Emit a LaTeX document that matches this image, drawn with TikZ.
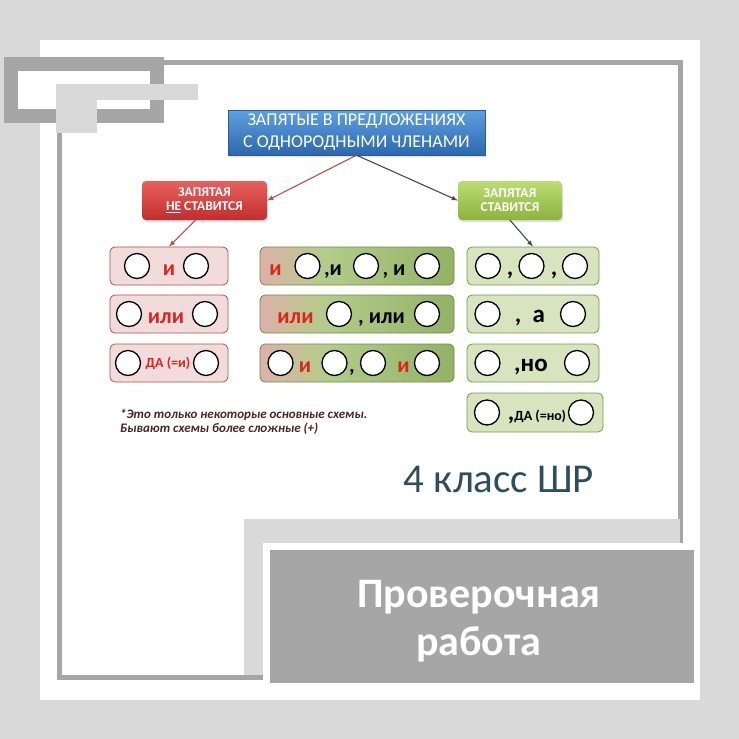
\documentclass[tikz,border=0pt]{standalone}
\usepackage{fontspec}
\setmainfont{Carlito}
\usetikzlibrary{arrows,shadows}

\definecolor{bggray}{HTML}{D9D9D9}
\definecolor{dkgray}{HTML}{A6A6A6}
\definecolor{bluetop}{HTML}{5FA0E0}
\definecolor{bluebot}{HTML}{2C68B0}
\definecolor{blueline}{HTML}{2A5C98}
\definecolor{redtop}{HTML}{E8605C}
\definecolor{redbot}{HTML}{C02E2C}
\definecolor{greentop}{HTML}{BCDC74}
\definecolor{greenbot}{HTML}{8BB43C}
\definecolor{pinkfill}{HTML}{F2DCDB}
\definecolor{pinkline}{HTML}{B6504C}
\definecolor{lgfill}{HTML}{D7E4BD}
\definecolor{lgline}{HTML}{7A9650}
\definecolor{midpink}{HTML}{DDB1A8}
\definecolor{midgreen}{HTML}{B3CC8A}
\definecolor{midgreenb}{HTML}{92B265}
\definecolor{midline}{HTML}{6E8C48}
\definecolor{wordred}{HTML}{D8261F}
\definecolor{notebrown}{HTML}{4A2626}
\definecolor{classteal}{HTML}{2F4E5C}
\definecolor{arrred}{HTML}{B5504C}
\definecolor{arrgreen}{HTML}{45503A}

\pgfdeclarehorizontalshading{midgrad}{100bp}{color(0bp)=(midpink); color(25bp)=(midpink); color(42bp)=(midgreen); color(75bp)=(midgreenb); color(100bp)=(midgreenb)}

\begin{document}
\begin{tikzpicture}[x=1pt,y=-1pt,
  ring/.style={circle,draw=black,fill=white,line width=1.3pt,minimum size=25pt,inner sep=0pt},
  redword/.style={text=wordred,font=\fontsize{22}{22}\selectfont\bfseries,anchor=base,inner sep=0pt},
  blkword/.style={text=black,font=\fontsize{22}{22}\selectfont\bfseries,anchor=base,inner sep=0pt},
  bigword/.style={text=black,font=\fontsize{25}{25}\selectfont\bfseries,anchor=base,inner sep=0pt},
  lbox/.style={draw=pinkline,fill=pinkfill,rounded corners=5pt,line width=0.8pt,minimum width=118pt,minimum height=38pt},
  mbox/.style={draw=midline,shading=midgrad,rounded corners=5pt,line width=0.8pt,minimum width=194pt,minimum height=38pt},
  rbox/.style={draw=lgline,fill=lgfill,rounded corners=5pt,line width=0.8pt,minimum width=132pt,minimum height=38pt},
  headbox/.style={text=white,align=center,font=\fontsize{13.5}{14}\selectfont\bfseries,rounded corners=4pt,
    minimum height=39pt,drop shadow={opacity=.25,shadow xshift=1pt,shadow yshift=-2pt}}]

\path[use as bounding box] (0,0) rectangle (739,739);

% page and frames
\fill[bggray] (0,0) rectangle (739,739);
\fill[white] (40,40) rectangle (700,700);
\draw[dkgray,line width=5pt] (59.5,62.5) rectangle (680.5,677.5);
\draw[dkgray,line width=14pt,fill=white] (11,64) rectangle (157,116);
\fill[bggray] (56,84) rectangle (198,100);
\fill[bggray] (56,84) rectangle (97,133);
\fill[bggray] (244,519) rectangle (680,543);
\fill[bggray] (244,519) rectangle (263,675);
\fill[white] (263,543) rectangle (700,700);

% heads
\node[draw=blueline,top color=bluetop,bottom color=bluebot,text=white,align=center,
  font=\fontsize{18}{22}\selectfont,minimum width=257pt,minimum height=45pt,
  drop shadow={opacity=.25,shadow xshift=1pt,shadow yshift=-2pt}] (title) at (356.5,132.5)
  {ЗАПЯТЫЕ В ПРЕДЛОЖЕНИЯХ\\С ОДНОРОДНЫМИ ЧЛЕНАМИ};
\node[headbox,top color=redtop,bottom color=redbot,minimum width=125pt] (nocomma) at (204.5,200.5)
  {ЗАПЯТАЯ\\\underline{НЕ} СТАВИТСЯ};
\node[headbox,top color=greentop,bottom color=greenbot,minimum width=104pt] (comma) at (510,200.5)
  {ЗАПЯТАЯ\\СТАВИТСЯ};

% rows
\node[lbox] (lbox1) at (169,266) {};
\node[lbox] (lbox2) at (169,314) {};
\node[lbox] (lbox3) at (169,363) {};
\node[mbox] (mbox1) at (357,266) {};
\node[mbox] (mbox2) at (357,314) {};
\node[mbox] (mbox3) at (357,363) {};
\node[rbox] (rbox1) at (533,266) {};
\node[rbox] (rbox2) at (533,314) {};
\node[rbox] (rbox3) at (533,363) {};
\node[rbox,minimum width=136pt,minimum height=39pt] (rbox4) at (535,412.5) {};

\path[->,>=latex,arrred,line width=1.1pt] (title.south) edge (nocomma.east);
\path[->,>=latex,arrgreen,line width=1.1pt] (title.south) edge (comma.west);
\path[->,>=latex,arrred,line width=1.1pt] ([xshift=-9pt]nocomma.south) edge (lbox1.north);
\path[->,>=latex,arrgreen,line width=1.1pt] (comma.south) edge (rbox1.north);

% circles
\foreach \n/\x/\y in {1/137/266,2/196/266,3/129/314,4/205/314,5/128/363,6/206/363}
  \node[ring] (lc\n) at (\x,\y) {};
\foreach \n/\x/\y in {1/307.5/266,2/366/266,3/427/266,4/339/314,5/427/314,
  6/280.5/363,7/334.5/363,8/373/363,9/427/363}
  \node[ring] (mc\n) at (\x,\y) {};
\foreach \n/\x/\y in {1/488/266,2/531.5/266,3/575/266,4/487.5/314,5/573/314,
  6/487.5/363,7/577/363,8/487/412.5,9/581/412.5}
  \node[ring] (rc\n) at (\x,\y) {};

% words
\node[redword] (lw1) at (169,275) {и};
\node[redword] (lw2) at (166,323) {или};
\node[redword,font=\fontsize{14}{14}\selectfont\bfseries] (lw3) at (168,367) {ДА (=и)};

\node[redword] (mw1) at (275.5,275) {и};
\node[blkword] (mw2) at (333,275) {,и};
\node[blkword] (mw3) at (394,275) {, и};
\node[redword] (mw4) at (295.5,323) {или};
\node[blkword] (mw5) at (381.5,323) {, или};
\node[redword] (mw6) at (305,372) {и};
\node[blkword] (mw7) at (352,372) {,};
\node[redword] (mw8) at (403.5,372) {и};

\node[bigword] (rw1) at (510,275) {,};
\node[bigword] (rw2) at (554,275) {,};
\node[bigword] (rw3) at (530,322) {,\ \ а};
\node[bigword] (rw4) at (531,371) {,но};
\node[bigword] (rw5) at (537,420) {,{\fontsize{14}{14}\selectfont ДА (=но)}};

% note and labels
\node[text=notebrown,font=\fontsize{13}{14}\selectfont\itshape\bfseries,anchor=base west,inner sep=0pt] (note1) at (120,418)
  {*Это только некоторые основные схемы.};
\node[text=notebrown,font=\fontsize{13}{14}\selectfont\itshape\bfseries,anchor=base west,inner sep=0pt] (note2) at (120,432)
  {Бывают схемы более сложные (+)};

\node[text=classteal,font=\fontsize{41}{41}\selectfont,anchor=base,inner sep=0pt] (grade) at (499,492) {4 класс ШР};

\node[fill=dkgray,minimum width=424pt,minimum height=133pt] (badge) at (482,616.5) {};
\node[text=white,font=\fontsize{42}{42}\selectfont\bfseries,anchor=base,inner sep=0pt] (badge1) at (479,607) {Проверочная};
\node[text=white,font=\fontsize{42}{42}\selectfont\bfseries,anchor=base,inner sep=0pt] (badge2) at (479,655) {работа};

\end{tikzpicture}
\end{document}
